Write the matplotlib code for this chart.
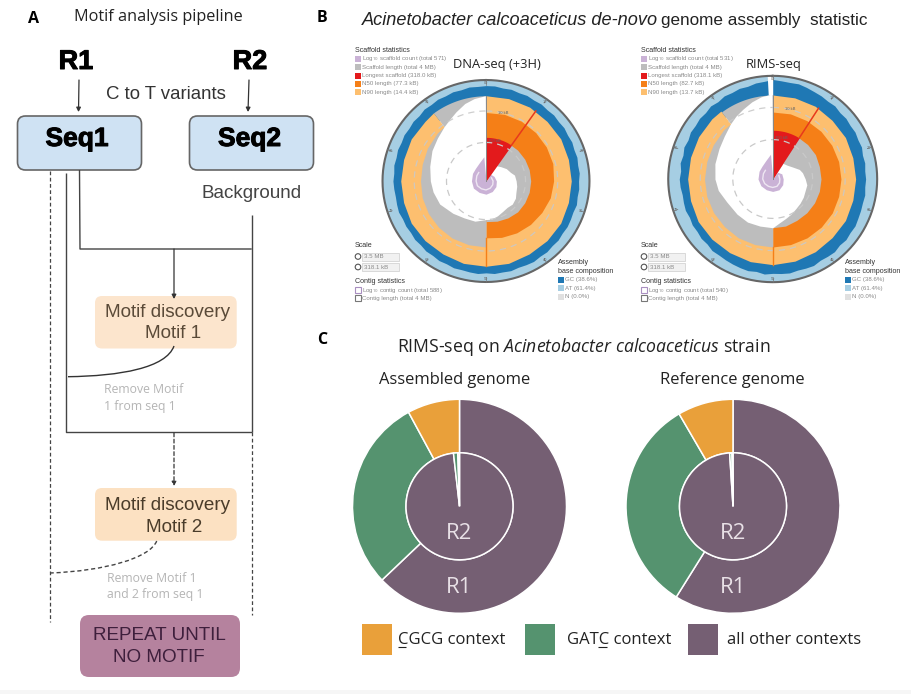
import numpy as np
import matplotlib
matplotlib.use("Agg")
import matplotlib.pyplot as plt
import matplotlib.patheffects as pe
from matplotlib.patches import FancyBboxPatch, Rectangle, PathPatch
from matplotlib.path import Path

plt.rcParams['font.family'] = ['Liberation Sans', 'DejaVu Sans']
plt.rcParams['mathtext.fontset'] = 'custom'
plt.rcParams['mathtext.rm'] = 'Open Sans'
plt.rcParams['mathtext.it'] = 'Open Sans:italic'

W, H = 912, 694

# ---- panel C values (percent)
ctx_names = ["CGCG context", "GATC context", "all other contexts"]
ctx_colors = ["#e9a03a", "#55936f", "#755f73"]
asm_r1 = [62.9, 29.2, 7.9]
asm_r2 = [98.2, 1.3, 0.5]
ref_r1 = [58.9, 32.7, 8.4]
ref_r2 = [99.0, 0.7, 0.3]

# ---- snail plot values: angle clockwise from the top, radius as part of the outer circle
red_end = [34.8, 32.6]

n90_angle = [0, 15, 30, 45, 60, 75, 90, 105, 120, 135, 150, 165, 180, 195, 210, 225, 240, 255, 270, 285, 300, 315, 323]
n90_dna = [.84, .84, .84, .83, .83, .82, .82, .82, .83, .83, .83, .84, .84, .84, .83, .83, .83, .82, .82, .82, .83, .83, .84]
n90_rims = [.81, .81, .81, .80, .80, .79, .79, .79, .80, .80, .81, .82, .826, .825, .82, .82, .82, .81, .81, .81, .815, .82, .82]

n50_angle = [0, 15, 30, 45, 60, 75, 90, 105, 120, 135, 150, 165, 180]
n50_dna = [.675, .68, .68, .675, .67, .665, .65, .64, .62, .605, .59, .575, .56]
n50_rims = [.646, .65, .65, .65, .65, .65, .65, .65, .655, .655, .655, .655, .656]

right_angle = [30, 45, 60, 75, 90, 105, 120, 135, 150, 165, 180]
right_dna = [.43, .43, .43, .43, .43, .43, .43, .43, .42, .41, .40]
right_rims = [.47, .47, .47, .46, .46, .46, .46, .46, .46, .47, .47]

left_angle = [180, 195, 210, 225, 240, 255, 270, 285, 300, 315, 323]
left_dna = [.65, .65, .65, .645, .64, .635, .63, .635, .65, .665, .67]
left_rims = [.656, .655, .655, .65, .65, .65, .65, .65, .655, .665, .667]

white_angle = [33, 45, 58, 70, 78, 90, 100, 112, 121, 132, 142, 152, 162, 172, 180, 195, 210, 225,
               243, 258, 270, 285, 300, 312, 323, 330, 337, 345, 352, 359.5]
white_dna = [.18, .20, .23, .25, .28, .29, .30, .31, .33, .34, .33, .34, .36, .38, .38, .41, .42, .45,
             .50, .52, .535, .56, .60, .63, .67, .70, .74, .79, .82, .84]
white_rims = [.18, .19, .22, .27, .29, .31, .33, .33, .34, .35, .36, .38, .40, .43, .47, .47, .48, .48,
              .49, .53, .55, .57, .59, .62, .667, .70, .73, .77, .80, .82]

purple_angle = [35, 60, 90, 120, 150, 180, 210, 240, 270, 300, 320, 340, 355]
purple_dna = [.08, .09, .10, .11, .12, .13, .13, .14, .14, .15, .16, .19, .24]
purple_rims = [.08, .10, .10, .11, .12, .12, .12, .13, .14, .15, .16, .19, .24]

# GC ring outer edge, one value per 5 degrees
gc_dna = [.94, .94, .93, .935, .925, .93, .92, .925, .915, .92, .91, .915, .905, .91, .90, .905, .895, .90,
          .89, .895, .89, .90, .89, .895, .90, .895, .905, .90, .91, .905, .915, .91, .905, .915, .91, .915,
          .905, .915, .91, .905, .91, .90, .905, .895, .90, .89, .895, .885, .89, .885, .895, .89, .885, .89,
          .895, .89, .90, .895, .905, .90, .91, .905, .915, .91, .925, .92, .93, .925, .935, .93, .94, .935]
gc_rims = [.96, .95, .945, .95, .94, .93, .925, .915, .92, .905, .91, .90, .905, .895, .90, .885, .89, .88,
           .885, .88, .89, .885, .89, .895, .905, .90, .91, .90, .915, .91, .905, .92, .915, .91, .92, .915,
           .91, .92, .905, .915, .91, .905, .90, .895, .90, .885, .89, .88, .885, .875, .885, .88, .875, .885,
           .89, .88, .895, .885, .90, .89, .905, .90, .91, .905, .92, .91, .925, .92, .93, .925, .94, .945]
pct_labels = ["00", "10", "20", "30", "40", "50", "60", "70", "80", "90"]

scaffold_dna = ["Log$_{10}$ scaffold count (total 571)", "Scaffold length (total 4 MB)", "Longest scaffold (318.0 kB)",
                "N50 length (77.3 kB)", "N90 length (14.4 kB)"]
scaffold_rims = ["Log$_{10}$ scaffold count (total 531)", "Scaffold length (total 4 MB)", "Longest scaffold (318.1 kB)",
                 "N50 length (82.7 kB)", "N90 length (13.7 kB)"]
scaffold_colors = ["#cab2d6", "#bdbdbd", "#e31a1c", "#f57f17", "#fdbf6f"]
contig_dna = ["Log$_{10}$ contig count (total 588)", "Contig length (total 4 MB)"]
contig_rims = ["Log$_{10}$ contig count (total 540)", "Contig length (total 4 MB)"]
base_names = ["GC (38.6%)", "AT (61.4%)", "N (0.0%)"]
base_colors = ["#1f78b4", "#a6cee3", "#e0e0e0"]

fig = plt.figure(figsize=(W / 100, H / 100), dpi=100)
ax = fig.add_axes([0, 0, 1, 1])
ax.set_xlim(0, W)
ax.set_ylim(H, 0)
ax.axis('off')
ax.add_patch(Rectangle((0, 690), W, 4, color="#f6f6f6", lw=0))


def rbox(x0, y0, x1, y1, fc, ec="none", lw=0, r=6):
    ax.add_patch(FancyBboxPatch((x0 + r, y0 + r), x1 - x0 - 2 * r, y1 - y0 - 2 * r,
                                boxstyle="round,pad=%d,rounding_size=%d" % (r, r), fc=fc, ec=ec, lw=lw))


def line(xs, ys, ls='-', lw=1.0, c="#444444"):
    ax.plot(xs, ys, color=c, lw=lw, ls=ls, solid_capstyle='butt')


def arrow(x0, y0, x1, y1, ls='-'):
    ax.annotate("", xy=(x1, y1), xytext=(x0, y0),
                arrowprops=dict(arrowstyle="-|>,head_width=0.13,head_length=0.25", color="#333333", lw=0.9,
                                linestyle=ls, shrinkA=0, shrinkB=0))


def label(x, y, s, size, c="#222222", ha='center', **kw):
    return ax.text(x, y, s, fontsize=size, color=c, ha=ha, va='center', **kw)


# ---- panel A
label(34, 19, "A", 11.5, c="black", family='Open Sans', fontweight='bold')
label(158, 17, "Motif analysis pipeline", 11.7, family='Open Sans')

heavy = [pe.withStroke(linewidth=0.7, foreground="black")]
label(76, 62, "R1", 19.5, c="black", fontweight='bold', path_effects=heavy)
label(250, 62, "R2", 19.5, c="black", fontweight='bold', path_effects=heavy)
arrow(79, 80, 78.5, 112)
arrow(249, 80, 248, 112)
label(166, 94, "C to T variants", 13.4, c="#333333")

rbox(17.5, 116, 141.5, 170, "#cfe2f3", "#666666", 1.2, r=8)
rbox(189.5, 116, 313.5, 170, "#cfe2f3", "#666666", 1.2, r=8)
label(77, 139, "Seq1", 19, c="black", fontweight='bold', path_effects=heavy)
label(249.5, 139, "Seq2", 19, c="black", fontweight='bold', path_effects=heavy)
label(252, 193, "Background", 13.6, c="#444444")

line([79.5, 80, 251.7], [170, 249, 249])
line([251.7, 251.7], [215, 432])
line([66, 66, 251.7], [173, 432, 432])
line([50, 50], [171, 622], ls=(0, (3, 2)), lw=0.9)
line([251.7, 251.7], [432, 615], ls=(0, (3, 2)), lw=0.9)
arrow(174, 249, 174, 299)

rbox(95, 296, 236.7, 348.5, "#fce5cd", r=7)
label(167.5, 312, "Motif discovery", 13.6, c="#5a4a38")
label(173.5, 333.5, "Motif 1", 13.6, c="#5a4a38")
curve1 = Path([(174, 346), (166, 368), (120, 376), (68, 376.7)], [Path.MOVETO, Path.CURVE4, Path.CURVE4, Path.CURVE4])
ax.add_patch(PathPatch(curve1, fc='none', ec="#333333", lw=1.0))
label(104, 389.5, "Remove Motif", 8.8, c="#b5b5b5", ha='left', family='Open Sans')
label(104, 406, "1 from seq 1", 8.8, c="#b5b5b5", ha='left', family='Open Sans')

arrow(174, 433, 174, 486, ls=(0, (3, 2)))
rbox(95, 488, 236.7, 540.7, "#fce1c2", r=7)
label(167.5, 505.5, "Motif discovery", 13.6, c="#4a3c2a")
label(174, 528, "Motif 2", 13.6, c="#4a3c2a")
curve2 = Path([(156.7, 541), (150, 558), (105, 571), (50, 573)], [Path.MOVETO, Path.CURVE4, Path.CURVE4, Path.CURVE4])
ax.add_patch(PathPatch(curve2, fc='none', ec="#444444", lw=1.0, ls=(0, (3, 2))))
label(106.7, 578, "Remove Motif 1", 8.8, c="#b5b5b5", ha='left', family='Open Sans')
label(106.7, 594.5, "and 2 from seq 1", 8.8, c="#b5b5b5", ha='left', family='Open Sans')

rbox(80, 615, 240, 677, "#b5829e", r=9)
label(159, 635, "REPEAT UNTIL", 13.6, c="#3e1f3c")
label(159, 658, "NO MOTIF", 13.6, c="#3e1f3c")

# ---- panel B
label(322, 18, "B", 11.5, c="black", family='Open Sans', fontweight='bold')
label(362, 20, "Acinetobacter calcoaceticus de-novo", 13.1, ha='left', style='italic')
label(661, 20, "genome assembly  statistic", 12.3, ha='left')
ax.add_patch(Rectangle((660, 26.5), 125, 8, color="white", lw=0))


def legend_block(x, scaffold, contig, base_x, scale_vals):
    hd = "#333333"
    txt = "#8a8a8a"
    label(x, 50, "Scaffold statistics", 5.1, c=hd, ha='left')
    for y, s, col in zip([58.7, 67, 75.5, 83.5, 92], scaffold, scaffold_colors):
        ax.add_patch(Rectangle((x, y - 3), 6, 6, color=col, lw=0))
        label(x + 7.5, y, s, 4.4, c=txt, ha='left')
    label(x, 245, "Scale", 5.1, c=hd, ha='left')
    for y, s in zip([256.5, 267], scale_vals):
        ax.add_patch(plt.Circle((x + 3, y), 2.8, fc='white', ec="#555555", lw=0.8))
        ax.add_patch(Rectangle((x + 7, y - 4), 37, 8, fc="#f1f1f1", ec="#cccccc", lw=0.5))
        label(x + 9, y, s, 4.4, c=txt, ha='left')
    label(x, 281, "Contig statistics", 5.1, c=hd, ha='left')
    for y, s, col in zip([290, 298], contig, ["#a98fc0", "#777777"]):
        ax.add_patch(Rectangle((x, y - 2.8), 5.8, 5.6, fc='white', ec=col, lw=0.8))
        label(x + 7, y, s, 4.4, c=txt, ha='left')
    label(base_x, 262.7, "Assembly", 5.1, c=hd, ha='left')
    label(base_x, 271, "base composition", 5.1, c=hd, ha='left')
    for y, s, col in zip([279.5, 288, 296.7], base_names, base_colors):
        ax.add_patch(Rectangle((base_x, y - 3), 6, 6, color=col, lw=0))
        label(base_x + 7, y, s, 4.4, c=txt, ha='left')


def snail(cx, cy, rx, ry, n90, n50, right, left, white, purple, gc, red_deg, gap=False):
    p = fig.add_axes([(cx - rx) / W, 1 - (cy + ry) / H, 2 * rx / W, 2 * ry / H], projection='polar')
    p.set_theta_zero_location('N')
    p.set_theta_direction(-1)
    p.set_aspect('auto')
    p.set_ylim(0, 1)
    p.axis('off')
    rad = np.deg2rad
    circle = np.linspace(0, 2 * np.pi, 361)

    # outer rings, the GC band runs under the assembly wedges
    p.fill_between(circle, .75, 1, color="#a6cee3", lw=0)
    gc_theta = rad(np.arange(0, 365, 5))
    p.fill_between(gc_theta, .75, gc + gc[:1], color="#1f78b4", lw=0)

    # assembly wedges
    gray_end = np.linspace(rad(n90_angle[-1]), 2 * np.pi, 40)
    p.fill_between(gray_end, 0, n90[0], color="#bdbdbd", lw=0)
    p.fill_between(rad(n90_angle), 0, n90, color="#fdbf6f", lw=0)
    p.fill_between(rad(n50_angle), 0, n50, color="#f57f17", lw=0)
    p.fill_between(rad(right_angle), 0, right, color="#bdbdbd", lw=0)
    p.fill_between(rad(left_angle), 0, left, color="#bdbdbd", lw=0)
    p.fill_between(rad(white_angle), 0, white, color="white", lw=0)

    # log count spiral
    p.fill_between(rad(purple_angle), 0, purple, color="#cab2d6", lw=0)
    p.plot(rad(purple_angle[1:-2]), np.array(purple[1:-2]) * .68, color="#eee6f2", lw=1.0)
    red_theta = np.linspace(0, rad(red_deg), 12)
    p.fill_between(red_theta, 0, right[0], color="#e31a1c", lw=0)

    # dashed scale circles and marker lines
    p.plot(circle, np.full(361, .38), color="#c9c9c9", lw=0.9, ls=(0, (5, 4)))
    p.plot(circle, np.full(361, .69), color="#c9c9c9", lw=0.9, ls=(0, (5, 4)), alpha=0.9)
    p.plot([rad(red_deg)] * 2, [right[0], n90[2]], color="#e8391c", lw=1.1)
    p.plot([np.pi, np.pi], [n50[-1], n90[12]], color="#f57f17", lw=1.0)
    p.plot([0, 0], [0, n90[0]], color="#888888", lw=0.7)

    # scale ring
    p.plot(circle, np.full(361, .995), color="#666666", lw=1.5, clip_on=False)
    for i, s in enumerate(pct_labels):
        p.plot([rad(i * 36)] * 2, [.95, 1], color="#777777", lw=0.5)
        p.text(rad(i * 36), .965, s, fontsize=2.8, color="#666666", ha='center', va='center')
    p.text(rad(14), .695, "10 kB", fontsize=3, color="#666666", ha='center', va='center')
    p.text(rad(12), .40, "100 kB", fontsize=3, color="#666666", ha='center', va='center')
    if gap:
        p.fill_between(np.array([rad(357), 2 * np.pi]), .81, 1.02, color="white", lw=0, clip_on=False)
    return p


legend_block(355, scaffold_dna, contig_dna, 558, ["3.5 MB", "318.1 kB"])
legend_block(641, scaffold_rims, contig_rims, 845, ["3.5 MB", "318.1 kB"])
label(496.7, 64, "DNA-seq (+3H)", 9.3, family='Open Sans')
label(774, 64, "RIMS-seq", 9.3, family='Open Sans')

snail(486, 181, 104, 101.5, n90_dna, n50_dna, right_dna, left_dna, white_dna, purple_dna, gc_dna, red_end[0])
snail(772.7, 179, 105, 103.7, n90_rims, n50_rims, right_rims, left_rims, white_rims, purple_rims, gc_rims, red_end[1], gap=True)

# ---- panel C
label(322, 340, "C", 11.5, c="black", family='Open Sans', fontweight='bold')
label(584, 347, r"RIMS-seq on $\mathit{Acinetobacter\ calcoaceticus}$ strain", 12.7, family='Open Sans')
label(454.6, 380, "Assembled genome", 11.9, family='Open Sans')
label(732.7, 380, "Reference genome", 11.9, family='Open Sans')


def donut(cx, cy, r, outer, inner):
    d = fig.add_axes([(cx - r) / W, 1 - (cy + r) / H, 2 * r / W, 2 * r / H])
    colors = [ctx_colors[2], ctx_colors[1], ctx_colors[0]]
    style = dict(startangle=90, counterclock=False, colors=colors)
    d.pie(outer, radius=1.0, wedgeprops=dict(width=0.5, edgecolor='white', linewidth=1.1), **style)
    d.pie(inner, radius=0.5, wedgeprops=dict(edgecolor='white', linewidth=1.1), **style)
    d.set_xlim(-1, 1)
    d.set_ylim(-1, 1)
    d.patch.set_alpha(0)
    d.text(0, -0.255, "R2", fontsize=16, color="#e8e0e6", ha='center', va='center', family='Open Sans')
    d.text(0, -0.76, "R1", fontsize=16, color="#e8e0e6", ha='center', va='center', family='Open Sans')


donut(459.5, 506.3, 107, asm_r1, asm_r2)
donut(733, 506.3, 107, ref_r1, ref_r2)

for x0, col, tx, name in zip([362, 525, 688], ctx_colors, [398, 567, 727], ctx_names):
    ax.add_patch(Rectangle((x0, 624), 30, 31, color=col, lw=0))
    label(tx, 639.5, name, 12, ha='left', family='Open Sans')
line([398, 406.5], [647, 647], c="#222222", lw=0.8)
line([598, 607], [647, 647], c="#222222", lw=0.8)

fig.savefig("out.png", dpi=100)
